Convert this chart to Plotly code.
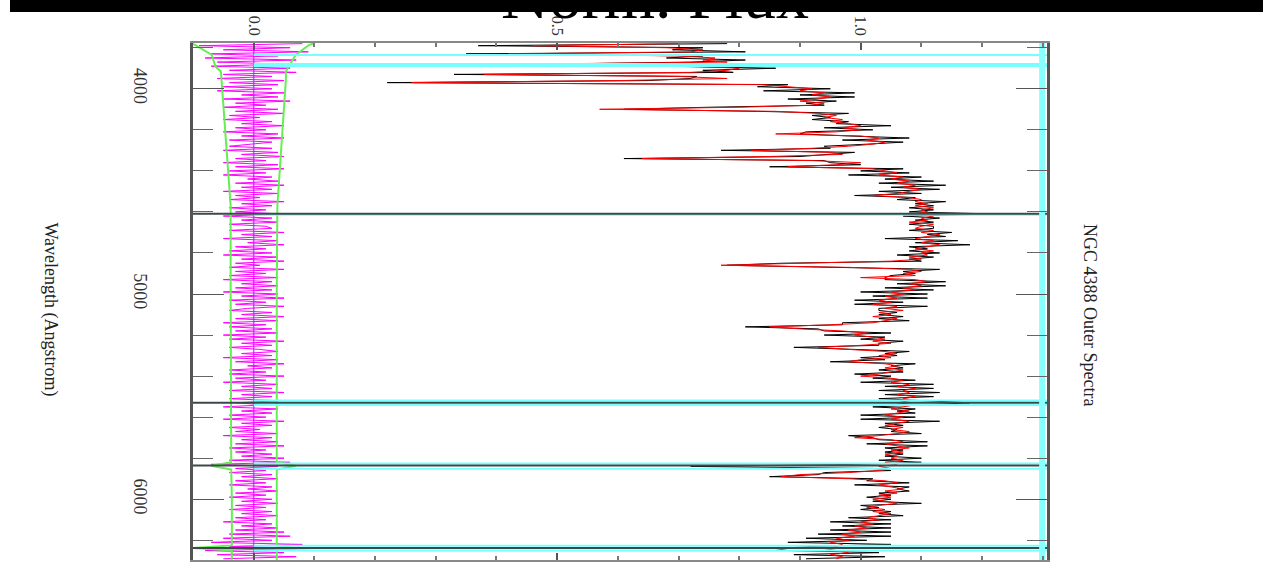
import numpy as np
import plotly.graph_objects as go

# ---------------- data ----------------
wavelength = np.arange(3780, 6300, 10)  # sampling grid (Angstrom)

model_flux = [
    0.70, 0.46, 0.68, 0.74, 0.72, 0.42, 0.70, 0.76, 0.74, 0.78,
    0.44, 0.72, 0.80, 0.78, 0.72, 0.38, 0.70, 0.78, 0.60, 0.26,
    0.84, 0.88, 0.92, 0.90, 0.94, 0.92, 0.95, 0.93, 0.90, 0.94,
    0.92, 0.80, 0.57, 0.86, 0.93, 0.96, 0.94, 0.97, 0.95, 0.98,
    1.00, 0.97, 1.00, 0.96, 0.86, 1.00, 1.03, 1.01, 1.04, 1.02,
    0.98, 0.92, 0.82, 0.95, 0.97, 0.85, 0.64, 0.92, 1.00, 0.96,
    0.88, 1.02, 1.04, 1.06, 1.03, 1.07, 1.05, 1.08, 1.06, 1.09,
    1.07, 1.10, 1.08, 1.06, 1.02, 1.08, 1.10, 1.09, 1.11, 1.09,
    1.12, 1.10, 1.11, 1.09, 1.12, 1.10, 1.11, 1.08, 1.12, 1.10,
    1.09, 1.12, 1.10, 1.13, 1.11, 1.09, 1.12, 1.10, 1.13, 1.11,
    1.09, 1.12, 1.10, 1.11, 1.08, 1.10, 1.05, 0.90, 0.77, 0.98,
    1.08, 1.10, 1.07, 1.09, 1.00, 1.09, 1.11, 1.08, 1.10, 1.07,
    1.09, 1.05, 1.07, 1.04, 1.06, 1.03, 1.05, 1.02, 1.06, 1.04,
    1.07, 1.03, 1.05, 1.02, 1.06, 1.04, 1.02, 0.95, 0.85, 0.90,
    0.97, 1.01, 0.99, 1.02, 1.04, 1.02, 1.05, 1.00, 0.93, 0.98,
    1.04, 1.06, 1.03, 1.05, 1.00, 0.98, 1.04, 1.06, 1.04, 1.07,
    1.05, 1.03, 1.00, 1.05, 1.07, 1.05, 1.08, 1.06, 1.09, 1.07,
    1.08, 1.06, 1.09, 1.07, 1.08, 1.06, 1.09, 1.07, 1.05, 1.08,
    1.06, 1.04, 1.07, 1.05, 1.08, 1.06, 1.04, 1.07, 1.05, 1.08,
    1.06, 1.03, 0.99, 1.05, 1.07, 1.04, 1.06, 1.08, 1.05, 1.07,
    1.04, 1.06, 1.05, 1.07, 1.04, 1.06, 1.03, 1.05, 1.03, 0.98,
    0.90, 0.87, 0.98, 1.04, 1.06, 1.03, 1.05, 1.07, 1.04, 1.06,
    1.03, 1.05, 1.02, 1.04, 1.06, 1.03, 1.01, 1.04, 1.02, 1.05,
    1.03, 1.01, 1.03, 1.00, 1.02, 0.99, 1.01, 0.98, 1.00, 0.97,
    0.99, 0.96, 0.98, 0.95, 0.97, 0.96, 0.94, 0.96, 0.98, 0.95,
    0.97, 0.96,
]

residual = [
    0.08, -0.09, 0.06, -0.05, 0.09, -0.07, 0.04, -0.08, 0.07, -0.06,
    0.05, -0.07, 0.06, -0.04, 0.07, -0.05, 0.03, -0.06, 0.05, -0.04,
    0.04, -0.05, 0.03, -0.06, 0.05, -0.02, 0.04, -0.05, 0.06, -0.03,
    0.02, -0.05, 0.04, -0.03, 0.05, -0.04, 0.01, -0.05, 0.03, -0.02,
    0.05, -0.03, 0.02, -0.05, 0.04, -0.02, 0.05, -0.04, 0.03, -0.01,
    -0.04, 0.03, -0.05, 0.04, -0.02, 0.05, -0.03, 0.02, -0.05, 0.04,
    -0.03, 0.05, -0.04, 0.02, -0.05, 0.03, -0.01, 0.04, -0.03, 0.05,
    -0.02, 0.03, -0.05, 0.04, -0.03, 0.01, -0.04, 0.05, -0.02, 0.03,
    -0.04, 0.02, -0.03, 0.05, -0.05, 0.03, -0.02, 0.04, -0.04, 0.02,
    0.03, -0.04, 0.05, -0.02, 0.03, -0.05, 0.04, -0.01, 0.05, -0.03,
    0.02, -0.04, 0.03, -0.05, 0.04, -0.02, 0.05, -0.03, 0.01, -0.04,
    0.05, -0.03, 0.02, -0.04, 0.04, -0.05, 0.03, -0.02, 0.04, -0.03,
    0.03, -0.05, 0.04, -0.02, 0.05, -0.04, 0.02, -0.03, 0.05, -0.01,
    -0.04, 0.03, -0.02, 0.05, -0.03, 0.04, -0.05, 0.02, -0.04, 0.03,
    -0.03, 0.04, -0.05, 0.02, -0.04, 0.05, -0.02, 0.03, -0.04, 0.01,
    0.04, -0.02, 0.03, -0.05, 0.04, -0.03, 0.05, -0.01, 0.03, -0.04,
    0.02, -0.04, 0.05, -0.03, 0.02, -0.05, 0.04, -0.02, 0.03, -0.04,
    0.05, -0.02, 0.03, -0.04, 0.04, -0.03, 0.02, -0.05, 0.04, -0.02,
    0.03, -0.04, 0.02, -0.05, 0.05, -0.02, 0.03, -0.04, 0.01, -0.03,
    0.04, -0.05, 0.03, -0.02, 0.04, -0.03, 0.05, -0.04, 0.02, -0.03,
    0.03, -0.02, 0.05, -0.04, 0.06, -0.07, 0.04, -0.03, 0.02, -0.04,
    0.03, -0.02, 0.04, -0.03, 0.02, -0.04, 0.03, -0.01, 0.04, -0.03,
    0.02, -0.04, 0.03, -0.02, 0.04, -0.03, 0.02, -0.04, 0.03, -0.02,
    0.04, -0.03, 0.02, -0.05, 0.03, -0.02, 0.04, -0.03, 0.05, -0.04,
    0.06, -0.05, 0.03, -0.07, 0.08, -0.04, 0.10, -0.08, 0.05, -0.06,
    0.07, -0.05,
]

# masked sky-line pixels in the observed spectrum
sky_wave = [4610, 5530, 5840, 6240]
sky_flux = [1.22, 1.18, 0.72, 0.86]

# noise envelope (green)
env_wave = [3777, 3787, 3835, 3892, 3916, 3956, 4086, 4183, 4296, 4408, 4570,
            4958, 5500, 5820, 5837, 5855, 6000, 6225, 6237, 6250, 6296]
env_hi = [0.100, 0.091, 0.069, 0.058, 0.053, 0.053, 0.050, 0.048, 0.045, 0.042,
          0.039, 0.038, 0.038, 0.038, 0.070, 0.038, 0.038, 0.038, 0.070, 0.038, 0.038]
env_lo = [-0.105, -0.096, -0.069, -0.063, -0.054, -0.053, -0.050, -0.047, -0.045,
          -0.041, -0.038, -0.038, -0.037, -0.037, -0.070, -0.037, -0.036, -0.036,
          -0.100, -0.036, -0.036]

# mask markers
mask_cyan = [3835, 3879, 3889, 4614, 5519, 5541, 5826, 5852, 6226, 6250]
mask_dark = [4609, 5530, 5835, 6237]
mask_edge_flux = 1.299

x_range = [-0.1, 1.307]
y_range = [6296, 3777]

# ---------------- build ----------------
model = np.array(model_flux)
obs = model + np.array(residual)
for w, f in zip(sky_wave, sky_flux):
    obs[wavelength == w] = f

fig = go.Figure()

# zero line (violet)
fig.add_trace(go.Scatter(x=[0, 0], y=[y_range[1], y_range[0]], mode="lines",
                         line=dict(color="#9a6bff", width=1.5), hoverinfo="skip"))
# residuals
fig.add_trace(go.Scatter(x=residual, y=wavelength, mode="lines",
                         line=dict(color="#ff00ff", width=1)))
# envelope
fig.add_trace(go.Scatter(x=env_hi, y=env_wave, mode="lines",
                         line=dict(color="#66ee55", width=2)))
fig.add_trace(go.Scatter(x=env_lo, y=env_wave, mode="lines",
                         line=dict(color="#66ee55", width=2)))
# spectra
fig.add_trace(go.Scatter(x=obs, y=wavelength, mode="lines",
                         line=dict(color="#000000", width=1)))
fig.add_trace(go.Scatter(x=model, y=wavelength, mode="lines",
                         line=dict(color="#ff0000", width=1)))
# mask lines
for w in mask_cyan:
    fig.add_trace(go.Scatter(x=[0, x_range[1]], y=[w, w], mode="lines",
                             line=dict(color="#77ffff", width=2), hoverinfo="skip"))
for w in mask_dark:
    fig.add_trace(go.Scatter(x=x_range, y=[w, w], mode="lines",
                             line=dict(color="#3a4a4a", width=2), hoverinfo="skip"))
fig.add_trace(go.Scatter(x=[mask_edge_flux, mask_edge_flux], y=[y_range[1], y_range[0]],
                         mode="lines", line=dict(color="#88ffff", width=6), hoverinfo="skip"))

font_family = "Liberation Serif, Times New Roman, serif"

fig.update_layout(
    width=1263, height=562,
    margin=dict(l=193, r=216, t=43, b=0),
    paper_bgcolor="white", plot_bgcolor="white",
    showlegend=False,
    font=dict(family=font_family, color="#222222"),
    xaxis=dict(
        range=x_range, side="top", showgrid=False, zeroline=False,
        tick0=0, dtick=0.5, tickformat=".1f", tickangle=90,
        ticks="inside", ticklen=7, tickcolor="#555", tickwidth=1.5,
        minor=dict(dtick=0.1, ticks="inside", ticklen=4, tickcolor="#777"),
        showline=True, linecolor="#888", linewidth=1.5, mirror="ticks",
        tickfont=dict(size=16, family=font_family, color="#333"),
    ),
    yaxis=dict(
        range=y_range, showgrid=False, zeroline=False,
        tick0=0, dtick=1000, tickangle=90,
        ticks="inside", ticklen=31, tickcolor="#555", tickwidth=1,
        minor=dict(dtick=200, ticks="inside", ticklen=20, tickcolor="#666"),
        showline=True, linecolor="#555", linewidth=3, mirror="ticks",
        ticklabelstandoff=34,
        tickfont=dict(size=18, family=font_family, color="#333"),
    ),
)

# black band at the top of the image
fig.add_shape(type="rect", xref="paper", yref="paper",
              x0=(10 - 193) / 854, x1=(1263 - 193) / 854,
              y0=1 + 31 / 519, y1=1 + 43 / 519 + 0.01,
              fillcolor="black", line=dict(width=0), layer="above")

fig.add_annotation(text="Norm. Flux", xref="paper", yref="paper",
                   x=(655 - 193) / 854, y=1 + (43 + 5) / 519, yanchor="middle",
                   showarrow=False, font=dict(size=66, family=font_family, color="#000"))
fig.add_annotation(text="Wavelength (Angstrom)", xref="paper", yref="paper",
                   x=(38 - 193) / 854, y=(562 - 310) / 519, textangle=90,
                   showarrow=False, font=dict(size=18, family=font_family, color="#222"))
fig.add_annotation(text="NGC 4388 Outer Spectra", xref="paper", yref="paper",
                   x=(1102 - 193) / 854, y=(562 - 316) / 519, textangle=90,
                   showarrow=False, font=dict(size=18, family=font_family, color="#222"))

fig.write_html("out.html", config={"displayModeBar": False},
               post_script="document.body.style.margin='0';")
